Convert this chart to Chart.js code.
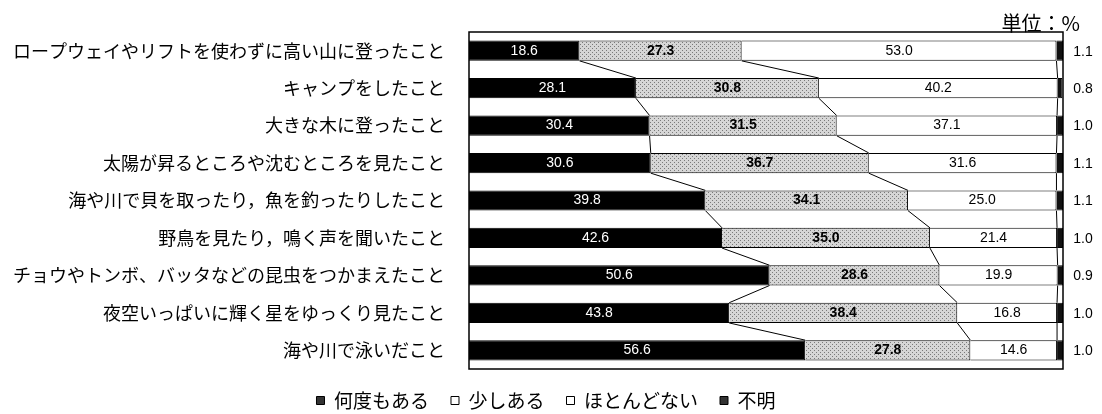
<!DOCTYPE html>
<html lang="ja">
<head>
<meta charset="utf-8">
<script src="https://cdn.jsdelivr.net/npm/chart.js@4"></script>
<style>
  html, body { margin: 0; padding: 0; background: #fff; }
  #wrap { width: 1102px; height: 414px; position: relative; }
</style>
</head>
<body>
<div id="wrap"><canvas id="natureChart"></canvas></div>
<script>
// 体験の有無（単位：%）
const categories = [
  'ロープウェイやリフトを使わずに高い山に登ったこと',
  'キャンプをしたこと',
  '大きな木に登ったこと',
  '太陽が昇るところや沈むところを見たこと',
  '海や川で貝を取ったり，魚を釣ったりしたこと',
  '野鳥を見たり，鳴く声を聞いたこと',
  'チョウやトンボ、バッタなどの昆虫をつかまえたこと',
  '夜空いっぱいに輝く星をゆっくり見たこと',
  '海や川で泳いだこと'
];
const seriesNames = ['何度もある', '少しある', 'ほとんどない', '不明'];
const oftenValues = [18.6, 28.1, 30.4, 30.6, 39.8, 42.6, 50.6, 43.8, 56.6];
const littleValues = [27.3, 30.8, 31.5, 36.7, 34.1, 35.0, 28.6, 38.4, 27.8];
const rarelyValues = [53.0, 40.2, 37.1, 31.6, 25.0, 21.4, 19.9, 16.8, 14.6];
const unknownValues = [1.1, 0.8, 1.0, 1.1, 1.1, 1.0, 0.9, 1.0, 1.0];
const unitText = '単位：%';

const JP = "'Noto Sans CJK JP', 'Noto Sans', sans-serif";
const NUM = "'Liberation Sans Narrow', 'Liberation Sans', Arial, sans-serif";

// light gray dotted fill like the printed screen tone
function stipple() {
  const c = document.createElement('canvas');
  c.width = 4; c.height = 4;
  const g = c.getContext('2d');
  g.fillStyle = '#d6d6d6';
  g.fillRect(0, 0, 4, 4);
  g.fillStyle = '#7a7a7a';
  g.fillRect(0, 0, 1, 1);
  g.fillRect(2, 2, 1, 1);
  return g.createPattern(c, 'repeat');
}

// labels, connector lines and frame
const barExtras = {
  id: 'barExtras',
  afterDatasetsDraw(chart) {
    const ctx = chart.ctx;
    const area = chart.chartArea;
    const xScale = chart.scales.x;
    ctx.save();

    // connector lines between neighbouring bars
    ctx.strokeStyle = '#000';
    ctx.lineWidth = 1;
    for (let d = 0; d < 3; d++) {
      const bars = chart.getDatasetMeta(d).data;
      for (let i = 0; i < bars.length - 1; i++) {
        const a = bars[i], b = bars[i + 1];
        ctx.beginPath();
        ctx.moveTo(a.x, a.y + a.height / 2);
        ctx.lineTo(b.x, b.y - b.height / 2);
        ctx.stroke();
      }
    }

    // value labels
    ctx.textBaseline = 'middle';
    ctx.textAlign = 'center';
    chart.data.datasets.forEach((ds, d) => {
      const bars = chart.getDatasetMeta(d).data;
      bars.forEach((bar, i) => {
        const txt = ds.data[i].toFixed(1);
        if (d === 3) {
          ctx.fillStyle = '#000';
          ctx.font = '14px ' + NUM;
          ctx.fillText(txt, xScale.getPixelForValue(100) + 20, bar.y + 1);
        } else {
          ctx.fillStyle = d === 0 ? '#fff' : '#000';
          ctx.font = (d === 1 ? 'bold ' : '') + '14px ' + NUM;
          ctx.fillText(txt, (bar.x + bar.base) / 2, bar.y);
        }
      });
    });

    // plot frame
    ctx.strokeStyle = '#000';
    ctx.lineWidth = 1.5;
    ctx.strokeRect(area.left, area.top, area.right - area.left, area.bottom - area.top);
    ctx.restore();
  }
};

const ctx = document.getElementById('natureChart').getContext('2d');
const tone = stipple();

const chart = new Chart(ctx, {
  type: 'bar',
  data: {
    labels: categories,
    datasets: [
      { label: seriesNames[0], data: oftenValues, backgroundColor: '#000' },
      { label: seriesNames[1], data: littleValues, backgroundColor: tone },
      { label: seriesNames[2], data: rarelyValues, backgroundColor: '#fff' },
      { label: seriesNames[3], data: unknownValues, backgroundColor: '#111' }
    ]
  },
  options: {
    indexAxis: 'y',
    responsive: true,
    maintainAspectRatio: false,
    animation: false,
    layout: { padding: { left: 12, right: 22, top: 0, bottom: 0 } },
    datasets: {
      bar: {
        borderColor: '#000',
        borderWidth: 1,
        categoryPercentage: 1,
        barPercentage: 0.54
      }
    },
    scales: {
      x: {
        display: false,
        stacked: true,
        min: 0,
        max: 100
      },
      y: {
        stacked: true,
        grid: { display: false },
        border: { display: false },
        ticks: {
          color: '#000',
          padding: 16,
          font: { family: JP, size: 18 }
        },
        afterFit: (s) => { s.width = 457; }
      },
      yRight: {
        type: 'category',
        position: 'right',
        grid: { display: false },
        border: { display: false },
        ticks: { display: false },
        afterFit: (s) => { s.width = 17; }
      }
    },
    plugins: {
      title: {
        display: true,
        text: unitText,
        align: 'end',
        color: '#000',
        font: { family: JP, size: 20, weight: 'normal' },
        padding: { top: 11.5, bottom: -3.5 }
      },
      legend: {
        position: 'bottom',
        maxHeight: 45,
        labels: {
          color: '#000',
          boxWidth: 8,
          boxHeight: 8,
          padding: 22,
          font: { family: JP, size: 19 },
          generateLabels: (c) => {
            const items = Chart.defaults.plugins.legend.labels.generateLabels(c);
            items.forEach((it, i) => {
              it.strokeStyle = '#000';
              it.lineWidth = 1;
              if (i === 1 || i === 2) it.fillStyle = '#fff';
              if (i === 0 || i === 3) it.fillStyle = '#333';
            });
            return items;
          }
        }
      },
      tooltip: { enabled: false }
    }
  },
  plugins: [barExtras]
});
</script>
</body>
</html>
